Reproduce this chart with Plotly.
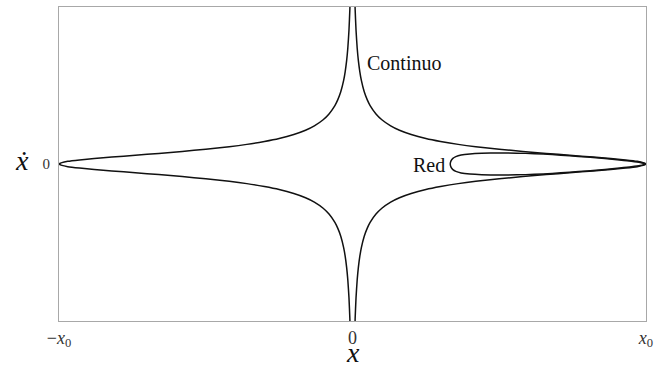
import numpy as np
import plotly.graph_objects as go

# Continuum orbit, upper-right branch: position (in units of x0) and velocity
cont_x = [0.007, 0.009, 0.012, 0.016, 0.020, 0.025, 0.030, 0.040, 0.050, 0.060,
          0.080, 0.100, 0.130, 0.160, 0.200, 0.250, 0.300, 0.360, 0.420, 0.500,
          0.580, 0.660, 0.740, 0.820, 0.880, 0.930, 0.970, 0.990, 1.000]
cont_v = [1.120, 0.986, 0.853, 0.737, 0.658, 0.587, 0.534, 0.460, 0.410, 0.372,
          0.319, 0.282, 0.243, 0.215, 0.188, 0.163, 0.144, 0.125, 0.110, 0.094,
          0.080, 0.067, 0.056, 0.044, 0.035, 0.026, 0.017, 0.009, 0.000]

# Lattice ("Red") orbit, upper half of the closed loop
red_x = [0.333, 0.336, 0.342, 0.352, 0.370, 0.400, 0.440, 0.500, 0.560, 0.620,
         0.680, 0.740, 0.800, 0.860, 0.910, 0.950, 0.980, 1.000]
red_v = [0.000, 0.022, 0.036, 0.047, 0.057, 0.064, 0.068, 0.070, 0.069, 0.066,
         0.060, 0.052, 0.044, 0.035, 0.026, 0.018, 0.010, 0.000]

x_ticks = [-1, 0, 1]
x_tick_text = ["\u2212<i>x</i><sub>0</sub>", "0", "<i>x</i><sub>0</sub>"]
y_ticks = [0]
y_tick_text = ["0"]

cx = np.array(cont_x)
cv = np.array(cont_v)
# right half: from the top down to x0 and back down to the bottom
right_x = np.concatenate([cx, cx[::-1][1:]])
right_v = np.concatenate([cv, -cv[::-1][1:]])
left_x = -right_x
left_v = right_v

rx = np.array(red_x)
rv = np.array(red_v)
loop_x = np.concatenate([rx, rx[::-1][1:]])
loop_v = np.concatenate([rv, -rv[::-1][1:]])

line_style = dict(color="#111111", width=1.5, shape="spline", smoothing=0.6)

fig = go.Figure()
fig.add_trace(go.Scatter(x=right_x, y=right_v, mode="lines", line=line_style,
                         hoverinfo="skip"))
fig.add_trace(go.Scatter(x=left_x, y=left_v, mode="lines", line=line_style,
                         hoverinfo="skip"))
fig.add_trace(go.Scatter(x=loop_x, y=loop_v, mode="lines", line=line_style,
                         hoverinfo="skip"))

serif = "Liberation Serif"
frame = "#a8a8a8"

fig.update_layout(
    width=670, height=368,
    margin=dict(l=59, r=24, t=7, b=47),
    paper_bgcolor="white", plot_bgcolor="white",
    showlegend=False,
    font=dict(family=serif, color="#222222", size=14),
    xaxis=dict(range=[-1, 1], showgrid=False, zeroline=False,
               showline=True, linecolor=frame, linewidth=1.2, mirror=True,
               tickmode="array", tickvals=x_ticks, ticktext=x_tick_text,
               ticks="", ticklabelstandoff=0,
               tickfont=dict(family=serif, size=18, color="#333333")),
    yaxis=dict(range=[-1, 1], showgrid=False, zeroline=False,
               showline=True, linecolor=frame, linewidth=1.2, mirror=True,
               tickmode="array", tickvals=y_ticks, ticktext=y_tick_text,
               ticks="", ticklabelstandoff=5,
               tickfont=dict(family=serif, size=15, color="#333333")),
    annotations=[
        dict(text="Continuo", x=0.041, y=0.645, xref="x", yref="y",
             xanchor="left", yanchor="middle", showarrow=False,
             font=dict(family=serif, size=20, color="#111111")),
        dict(text="Red", x=0.322, y=-0.005, xref="x", yref="y",
             xanchor="right", yanchor="middle", showarrow=False,
             font=dict(family=serif, size=20, color="#111111")),
        dict(text="<i>\u1e8b</i>", x=-0.063, y=0.02, xref="paper", yref="y",
             xanchor="center", yanchor="middle", showarrow=False,
             font=dict(family=serif, size=28, color="#111111")),
        dict(text="<i>x</i>", x=0.5, y=-0.045, xref="paper", yref="paper",
             xanchor="center", yanchor="top", showarrow=False,
             font=dict(family=serif, size=28, color="#111111")),
    ],
)

fig.write_html("out.html")
